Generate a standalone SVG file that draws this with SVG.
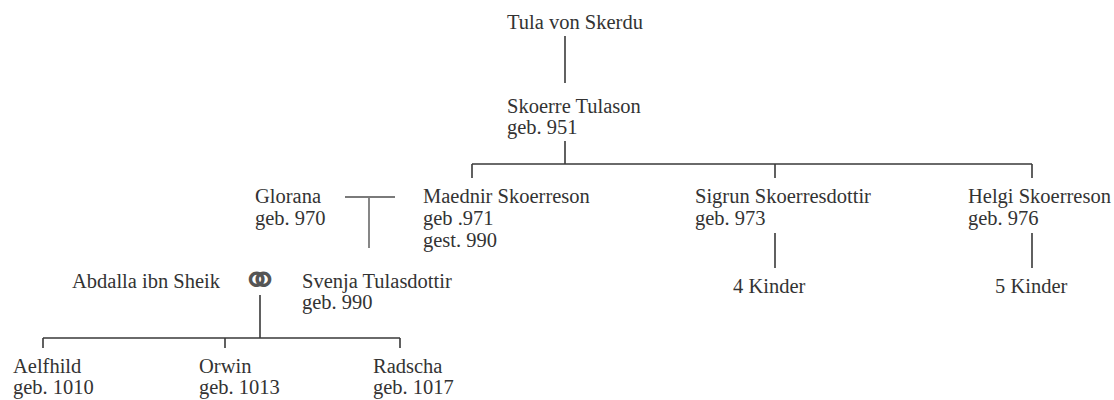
<svg xmlns="http://www.w3.org/2000/svg" width="1114" height="400" viewBox="0 0 1114 400">
<style>
text{font-family:"Liberation Serif","Times New Roman",serif;font-size:20.5px;fill:#333}
.ln{stroke:#3a3a3a;stroke-width:1.6;fill:none}
.lg{stroke:#7a7a7a;stroke-width:1.8;fill:none}
.sym{font-family:"DejaVu Sans",sans-serif;font-size:46px;fill:#555}
</style>
<rect width="1114" height="400" fill="#fff"/>
<g id="connectors">
<path class="ln" d="M565,36V83"/>
<path class="ln" d="M565,141V164M472,164H1032M472,164V178M775,164V178M1032,164V178"/>
<path class="ln" d="M775,233V268M1032,233V268"/>
<path class="lg" d="M345,197H395M369,197V248"/>
<path class="ln" d="M260,295V338M43,338H400M43,338V348M225,338V348M400,338V348"/>
</g>
<g id="tula"><text x="507" y="29">Tula von Skerdu</text></g>
<g id="skoerre"><text x="507" y="113">Skoerre Tulason</text><text x="507" y="134">geb. 951</text></g>
<g id="maednir"><text x="423" y="203">Maednir Skoerreson</text><text x="423" y="225">geb .971</text><text x="423" y="247">gest. 990</text></g>
<g id="sigrun"><text x="695" y="203">Sigrun Skoerresdottir</text><text x="695" y="225">geb. 973</text></g>
<g id="helgi"><text x="968" y="203">Helgi Skoerreson</text><text x="968" y="225">geb. 976</text></g>
<g id="sigrun-kinder"><text x="733" y="293">4 Kinder</text></g>
<g id="helgi-kinder"><text x="995" y="293">5 Kinder</text></g>
<g id="glorana"><text x="255" y="203">Glorana</text><text x="255" y="225">geb. 970</text></g>
<g id="abdalla"><text x="72" y="288">Abdalla ibn Sheik</text></g>
<g id="marriage"><text class="sym" x="260" y="296" text-anchor="middle">⚭</text></g>
<g id="svenja"><text x="302" y="288">Svenja Tulasdottir</text><text x="302" y="309">geb. 990</text></g>
<g id="aelfhild"><text x="13" y="373">Aelfhild</text><text x="13" y="394">geb. 1010</text></g>
<g id="orwin"><text x="199" y="373">Orwin</text><text x="199" y="394">geb. 1013</text></g>
<g id="radscha"><text x="373" y="373">Radscha</text><text x="373" y="394">geb. 1017</text></g>
</svg>
